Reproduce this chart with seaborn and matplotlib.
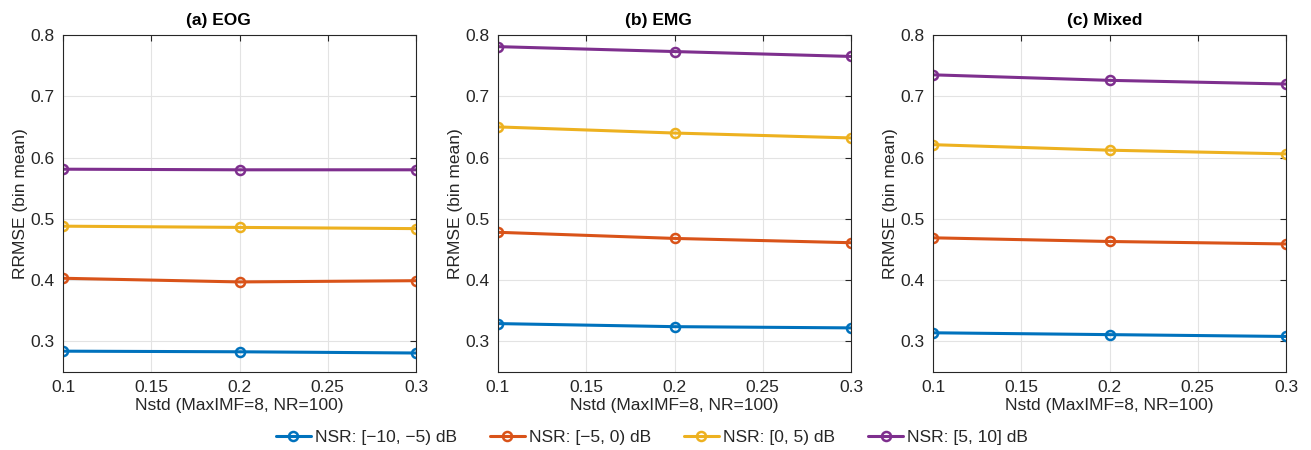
import matplotlib
matplotlib.use("Agg")
import matplotlib.pyplot as plt
import seaborn as sns
import pandas as pd

nstd = [0.1, 0.2, 0.3]
panels = ["(a) EOG", "(b) EMG", "(c) Mixed"]
series = ["NSR: [\u221210, \u22125) dB", "NSR: [\u22125, 0) dB", "NSR: [0, 5) dB", "NSR: [5, 10] dB"]
colors = ["#0072BD", "#D95319", "#EDB120", "#7E2F8E"]

eog_vals = [[0.284, 0.283, 0.281],
            [0.403, 0.397, 0.399],
            [0.488, 0.486, 0.484],
            [0.581, 0.580, 0.580]]
emg_vals = [[0.329, 0.324, 0.322],
            [0.478, 0.468, 0.461],
            [0.650, 0.640, 0.632],
            [0.781, 0.773, 0.765]]
mixed_vals = [[0.314, 0.311, 0.308],
              [0.469, 0.463, 0.459],
              [0.621, 0.612, 0.606],
              [0.735, 0.726, 0.720]]
all_vals = [eog_vals, emg_vals, mixed_vals]

sns.set_style("white")
plt.rcParams['font.family'] = ['Liberation Sans', 'DejaVu Sans']

fig = plt.figure(figsize=(13.11, 4.5), dpi=100)
lefts = [63, 498, 933]
title_x = [0.44, 0.455, 0.487]
width = 353
bottom_px, top_px = 372, 35
H = 450.0
W = 1311.0
fs = 12.5
axes = []
for i, (title, vals) in enumerate(zip(panels, all_vals)):
    ax = fig.add_axes([lefts[i] / W, 1 - bottom_px / H, width / W, (bottom_px - top_px) / H])
    rows = []
    for s, v in zip(series, vals):
        for x, y in zip(nstd, v):
            rows.append({"Nstd": x, "RRMSE": y, "NSR": s})
    df = pd.DataFrame(rows)
    sns.lineplot(data=df, x="Nstd", y="RRMSE", hue="NSR", hue_order=series,
                 palette=colors, marker="o", markersize=6.5, markerfacecolor="none",
                 markeredgewidth=1.8, linewidth=2.2, ax=ax, legend=(i == 0))
    for line in ax.lines:
        line.set_markeredgecolor(line.get_color())
        line.set_markerfacecolor("none")
    ax.set_xlim(0.1, 0.3)
    ax.set_ylim(0.25, 0.8)
    ax.set_xticks([0.1, 0.15, 0.2, 0.25, 0.3])
    ax.set_xticklabels(["0.1", "0.15", "0.2", "0.25", "0.3"])
    ax.set_yticks([0.3, 0.4, 0.5, 0.6, 0.7, 0.8])
    ax.set_yticklabels(["0.3", "0.4", "0.5", "0.6", "0.7", "0.8"])
    ax.grid(True, color="#e3e3e3", linewidth=0.8)
    ax.set_axisbelow(True)
    ax.tick_params(direction="in", top=True, right=True, length=4, width=0.8,
                   labelsize=fs, colors="#262626", pad=6, color="#262626")
    for sp in ax.spines.values():
        sp.set_color("#262626")
        sp.set_linewidth(0.8)
    ax.set_xlabel("Nstd (MaxIMF=8, NR=100)", fontsize=fs, color="#262626", labelpad=2)
    ax.set_ylabel("RRMSE (bin mean)", fontsize=fs, color="#262626", labelpad=2)
    ax.set_title(title, fontsize=12.5, fontweight="bold", color="#000000", pad=7, x=title_x[i])
    axes.append(ax)

handles, labels = axes[0].get_legend_handles_labels()
axes[0].get_legend().remove()
fig.legend(handles, labels, loc="center", bbox_to_anchor=(652 / W, 1 - 437 / H),
           ncol=4, frameon=False, fontsize=fs, handlelength=2.0, columnspacing=1.9,
           handletextpad=0.25)

fig.savefig("out.png", dpi=100, facecolor="white")
